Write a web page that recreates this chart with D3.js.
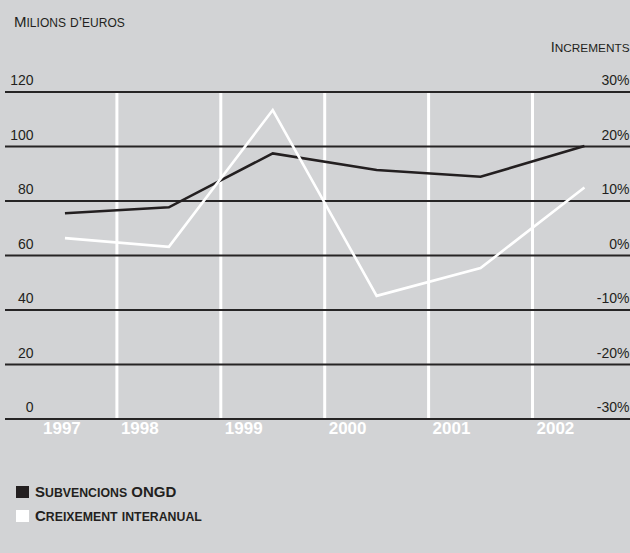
<!DOCTYPE html>
<html>
<head>
<meta charset="utf-8">
<script src="https://cdn.jsdelivr.net/npm/d3@7"></script>
<style>
  html, body { margin: 0; padding: 0; background: #d2d3d5; }
  svg { display: block; }
  text { font-family: "Liberation Sans", Arial, Helvetica, sans-serif; fill: #231f20; }
</style>
</head>
<body>
<svg id="chart" width="630" height="553"></svg>
<script>
// Subvencions a ONGD (milions d'euros) i creixement interanual (%)
const years = ["1997", "1998", "1999", "2000", "2001", "2002"];
const subvencions = [75.3, 77.5, 97.3, 91.2, 88.7, 100.0];
const creixement = [3.1, 1.5, 26.6, -7.5, -2.4, 12.4];
const leftTicks = [0, 20, 40, 60, 80, 100, 120];
const rightTicks = [-30, -20, -10, 0, 10, 20, 30];

const svg = d3.select("#chart");
const W = 630;
const ink = "#231f20";

const x = d3.scaleBand().domain(years).range([13, 636.4]);
const yL = d3.scaleLinear().domain([0, 120]).range([418.5, 91.5]);
const yR = d3.scaleLinear().domain([-30, 30]).range([418.5, 91.5]);
const cx = d => x(d) + x.bandwidth() / 2;

// Small-caps text: capitals at full size, lower-case letters as smaller capitals
function smallCaps(sel, str, big, small) {
  for (const ch of str) {
    const isLower = ch !== ch.toUpperCase();
    sel.append("tspan")
      .attr("font-size", isLower ? small : big)
      .text(ch.toUpperCase());
  }
}

// Vertical white separators between years
svg.append("g")
  .selectAll("line")
  .data(years.slice(1))
  .join("line")
  .attr("x1", d => x(d)).attr("x2", d => x(d))
  .attr("y1", yL(120)).attr("y2", yL(0))
  .attr("stroke", "#ffffff")
  .attr("stroke-width", 3);

// Horizontal grid lines (left axis ticks)
const yAxis = d3.axisRight(yL).tickValues(leftTicks).tickSize(W - 5).tickFormat("");
const gAxis = svg.append("g").attr("transform", "translate(5,0)").call(yAxis);
gAxis.select(".domain").remove();
gAxis.selectAll(".tick line").attr("stroke", "#262425").attr("stroke-width", 2);

// Left tick labels
svg.append("g")
  .selectAll("text")
  .data(leftTicks)
  .join("text")
  .attr("x", 33.5)
  .attr("y", d => yL(d) - 6.5)
  .attr("text-anchor", "end")
  .attr("font-size", 14)
  .text(d => d);

// Right tick labels
svg.append("g")
  .selectAll("text")
  .data(rightTicks)
  .join("text")
  .attr("x", 629.5)
  .attr("y", d => yR(d) - 6.5)
  .attr("text-anchor", "end")
  .attr("font-size", 14)
  .text(d => d + "%");

// Year labels
svg.append("g")
  .selectAll("text")
  .data(years)
  .join("text")
  .attr("x", d => Math.max(x(d) + 4, 43))
  .attr("y", 433.5)
  .attr("font-size", 17)
  .attr("font-weight", "bold")
  .style("fill", "#ffffff")
  .text(d => d);

// Series lines
const lineL = d3.line().x((d, i) => cx(years[i])).y(d => yL(d));
const lineR = d3.line().x((d, i) => cx(years[i])).y(d => yR(d));

svg.append("path")
  .datum(subvencions)
  .attr("d", lineL)
  .attr("fill", "none")
  .attr("stroke", ink)
  .attr("stroke-width", 2.6)
  .attr("stroke-linejoin", "miter");

svg.append("path")
  .datum(creixement)
  .attr("d", lineR)
  .attr("fill", "none")
  .attr("stroke", "#ffffff")
  .attr("stroke-width", 2.6)
  .attr("stroke-linejoin", "miter");

// Axis titles
smallCaps(svg.append("text").attr("x", 14).attr("y", 27), "Milions d’euros", 15, 12);
smallCaps(svg.append("text").attr("x", 629.5).attr("y", 52).attr("text-anchor", "end"), "Increments", 14.5, 11.8);

// Legend
const legend = [
  { label: "Subvencions ONGD", color: ink },
  { label: "Creixement interanual", color: "#ffffff" }
];
const lg = svg.append("g").selectAll("g").data(legend).join("g")
  .attr("transform", (d, i) => `translate(16,${486 + i * 24})`);
lg.append("rect").attr("width", 13).attr("height", 12).attr("fill", d => d.color);
lg.each(function (d) {
  const t = d3.select(this).append("text")
    .attr("x", 19).attr("y", 11)
    .attr("font-weight", "bold");
  smallCaps(t, d.label, 15, 12.3);
});
</script>
</body>
</html>
